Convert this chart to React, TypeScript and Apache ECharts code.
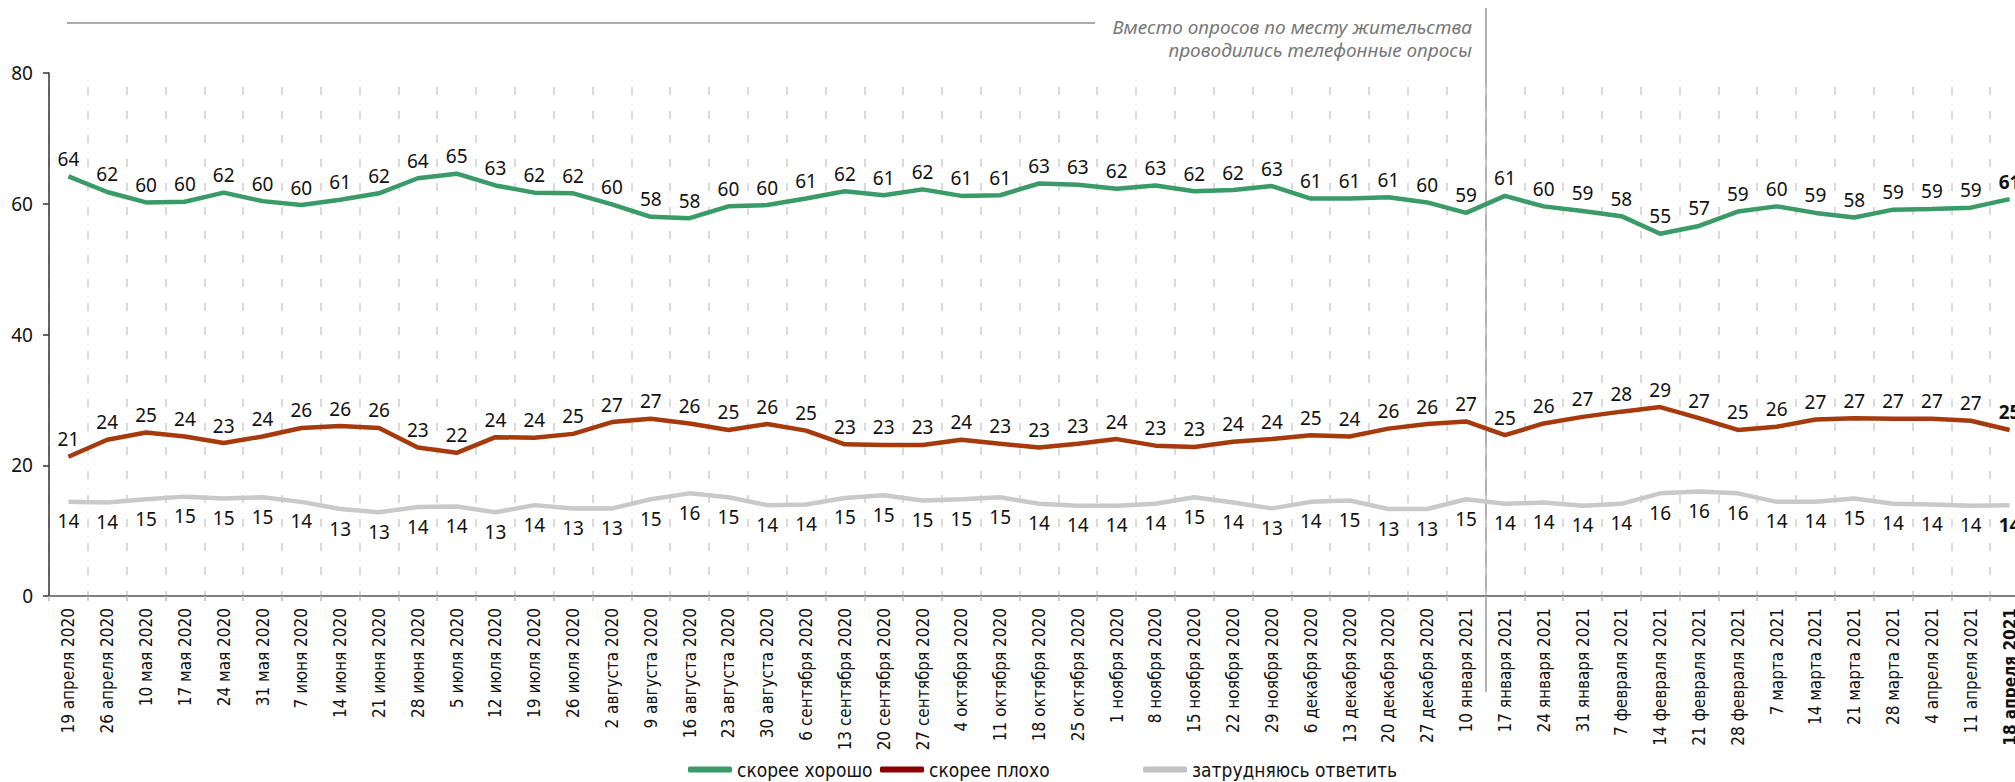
import React, { useEffect, useRef } from "react";
import * as echarts from "echarts";

const categories = [
  "19 апреля 2020", "26 апреля 2020", "10 мая 2020", "17 мая 2020", "24 мая 2020", "31 мая 2020",
  "7 июня 2020", "14 июня 2020", "21 июня 2020", "28 июня 2020", "5 июля 2020", "12 июля 2020",
  "19 июля 2020", "26 июля 2020", "2 августа 2020", "9 августа 2020", "16 августа 2020", "23 августа 2020",
  "30 августа 2020", "6 сентября 2020", "13 сентября 2020", "20 сентября 2020", "27 сентября 2020",
  "4 октября 2020", "11 октября 2020", "18 октября 2020", "25 октября 2020", "1 ноября 2020",
  "8 ноября 2020", "15 ноября 2020", "22 ноября 2020", "29 ноября 2020", "6 декабря 2020",
  "13 декабря 2020", "20 декабря 2020", "27 декабря 2020", "10 января 2021", "17 января 2021",
  "24 января 2021", "31 января 2021", "7 февраля 2021", "14 февраля 2021", "21 февраля 2021",
  "28 февраля 2021", "7 марта 2021", "14 марта 2021", "21 марта 2021", "28 марта 2021",
  "4 апреля 2021", "11 апреля 2021", "18 апреля 2021",
];

const good = [
  64.2, 61.8, 60.2, 60.3, 61.7, 60.4, 59.8, 60.6, 61.6, 63.9, 64.6, 62.8, 61.7, 61.6, 59.9, 58.0, 57.8,
  59.6, 59.8, 60.8, 61.9, 61.3, 62.2, 61.2, 61.3, 63.1, 62.9, 62.3, 62.8, 61.9, 62.1, 62.7, 60.8, 60.8,
  61.0, 60.2, 58.6, 61.2, 59.6, 58.9, 58.1, 55.4, 56.6, 58.8, 59.6, 58.6, 57.9, 59.1, 59.2, 59.4, 60.7,
];

const bad = [
  21.3, 23.9, 25.0, 24.4, 23.4, 24.4, 25.7, 26.0, 25.7, 22.7, 21.9, 24.3, 24.2, 24.8, 26.6, 27.1, 26.4,
  25.4, 26.3, 25.3, 23.2, 23.1, 23.1, 23.9, 23.3, 22.7, 23.3, 24.0, 23.0, 22.8, 23.6, 24.0, 24.6, 24.4,
  25.6, 26.3, 26.7, 24.6, 26.4, 27.4, 28.2, 28.9, 27.2, 25.4, 25.9, 27.0, 27.2, 27.1, 27.1, 26.8, 25.4,
];

const unsure = [
  14.4, 14.3, 14.8, 15.2, 14.9, 15.1, 14.4, 13.3, 12.8, 13.6, 13.7, 12.8, 13.9, 13.4, 13.4, 14.8, 15.7,
  15.1, 13.9, 14.0, 15.0, 15.4, 14.6, 14.8, 15.1, 14.1, 13.8, 13.8, 14.1, 15.1, 14.3, 13.4, 14.4, 14.6,
  13.3, 13.3, 14.8, 14.1, 14.3, 13.8, 14.1, 15.7, 16.0, 15.7, 14.4, 14.4, 14.9, 14.1, 14.0, 13.8, 13.9,
];

const seriesNames = ["скорее хорошо", "скорее плохо", "затрудняюсь ответить"];
const lineColors = ["#3a9a68", "#a63a0c", "#c9c9c9"];
const legendColors = ["#3a9a6a", "#8b0000", "#c2c2c2"];
const yTicks = [0, 20, 40, 60, 80];
const noteLines = ["Вместо опросов по месту жительства", "проводились телефонные опросы"];

const NARROW = "'Liberation Sans Narrow', 'DejaVu Sans Condensed', sans-serif";
const NUM = "'Noto Sans', 'Open Sans', sans-serif";

function toData(values: number[]) {
  return values.map((v, i) =>
    i === values.length - 1 ? { value: v, label: { fontWeight: "bold" } } : { value: v }
  );
}

export default function App() {
  const ref = useRef<HTMLDivElement>(null);

  useEffect(() => {
    if (!ref.current) return;
    const chart = echarts.init(ref.current, undefined, { renderer: "svg" });
    const labelBase = {
      show: true,
      fontFamily: NUM,
      fontSize: 19,
      color: "#111",
      formatter: (p: any) => String(Math.round(p.value)),
    };
    const allSeries = [good, bad, unsure].map((vals, k) => ({
      name: seriesNames[k],
      type: "line",
      data: toData(vals),
      symbol: "circle",
      symbolSize: 0,
      showSymbol: true,
      lineStyle: { color: lineColors[k], width: 4.5 },
      itemStyle: { color: lineColors[k] },
      label: { ...labelBase, position: k === 2 ? "bottom" : "top", distance: k === 2 ? 10 : 8 },
      labelLayout: { hideOverlap: false },
      z: 3 - k,
    }));
    const legendLefts = [683, 875, 1138];
    chart.setOption({
      animation: false,
      grid: { left: 49, top: 73, width: 1980, height: 523 },
      xAxis: {
        type: "category",
        data: categories,
        boundaryGap: true,
        axisLine: { lineStyle: { color: "#555", width: 1.5 } },
        axisTick: { show: true, length: 5, lineStyle: { color: "#bbb", width: 1.5 } },
        splitLine: {
          show: true,
          lineStyle: { color: "#cfcfcf", width: 1.5, type: [8, 16], dashOffset: 10 },
        },
        axisLabel: {
          rotate: 90,
          interval: 0,
          margin: 12,
          fontFamily: NARROW,
          fontSize: 17,
          color: "#111",
          formatter: (v: string, i: number) => (i === categories.length - 1 ? `{b|${v}}` : v),
          rich: { b: { fontWeight: "bold", fontFamily: NARROW, fontSize: 17, color: "#111" } },
        },
      },
      yAxis: {
        type: "value",
        min: yTicks[0],
        max: yTicks[yTicks.length - 1],
        interval: 20,
        axisLine: { show: true, lineStyle: { color: "#333", width: 1.5 } },
        axisTick: { show: true, length: 6, lineStyle: { color: "#333", width: 1.5 } },
        splitLine: { show: false },
        axisLabel: { fontFamily: NUM, fontSize: 19, color: "#111", margin: 16 },
      },
      legend: seriesNames.map((n, k) => ({
        data: [{ name: n, itemStyle: { color: legendColors[k] } }],
        left: legendLefts[k],
        top: 755,
        padding: 5,
        icon: "roundRect",
        itemWidth: 44,
        itemHeight: 6,
        selectedMode: false,
        textStyle: { fontFamily: NARROW, fontSize: 19, color: "#111" },
      })),
      graphic: [
        {
          type: "line",
          shape: { x1: 67, y1: 23, x2: 1095, y2: 23 },
          style: { stroke: "#aaa", lineWidth: 2 },
        },
        {
          type: "line",
          shape: { x1: 1486, y1: 8, x2: 1486, y2: 692 },
          style: { stroke: "#999", lineWidth: 1.5 },
        },
        ...noteLines.map((t, i) => ({
          type: "text",
          x: 1472,
          y: 27 + i * 23,
          style: {
            text: t,
            textAlign: "right",
            textVerticalAlign: "middle",
            font: `italic 19px ${NUM}`,
            fill: "#777",
          },
        })),
      ],
      series: allSeries,
    });
    return () => chart.dispose();
  }, []);

  return (
    <div
      style={{
        position: "fixed",
        left: 0,
        top: 0,
        width: 2015,
        height: 782,
        overflow: "hidden",
        background: "#fff",
      }}
    >
      <div ref={ref} style={{ width: 2040, height: 782 }} />
    </div>
  );
}
